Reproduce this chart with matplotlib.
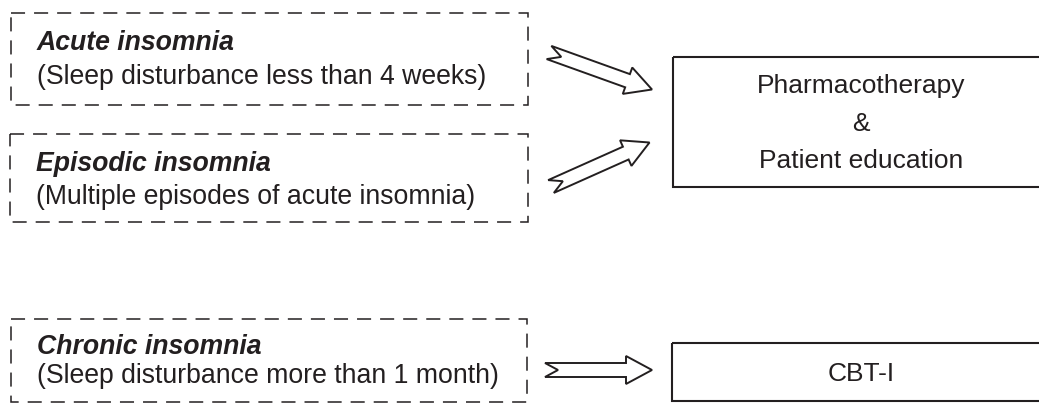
import matplotlib

matplotlib.use("Agg")
import matplotlib.pyplot as plt
import numpy as np
from matplotlib.patches import Polygon, Rectangle

plt.rcParams["font.family"] = ["Liberation Sans", "DejaVu Sans"]

# content of the diagram
titles = ["Acute insomnia", "Episodic insomnia", "Chronic insomnia"]
notes = [
    "(Sleep disturbance less than 4 weeks)",
    "(Multiple episodes of acute insomnia)",
    "(Sleep disturbance more than 1 month)",
]
treatments = [["Pharmacotherapy", "&", "Patient education"], ["CBT-I"]]
links = [(0, 0), (1, 0), (2, 1)]  # condition -> treatment

INK = "#231f20"
W, H = 1039, 403

# layout in pixel units (y grows downward)
cond_boxes = [(11, 12.5, 517, 92), (10, 134, 518, 88), (11, 318.5, 516, 83)]
title_dy = [37, 37, 35.5]
note_dy = [71, 69.5, 64.5]
treat_boxes = [(673, 57, 380, 130), (672, 343, 380, 58)]
line_gap = 37.5
arrow_ends = [((549, 52.5), (652, 89.5)), ((551, 186.5), (649.5, 142.5)), ((545, 370), (652, 370))]


def block_arrow(tail, tip, half_w=7, half_h=14, head_len=26, notch=13):
    tail = np.asarray(tail, float)
    tip = np.asarray(tip, float)
    d = tip - tail
    length = np.hypot(*d)
    u = d / length
    n = np.array([-u[1], u[0]])
    local = [
        (0, half_w), (length - head_len, half_w), (length - head_len, half_h),
        (length, 0), (length - head_len, -half_h), (length - head_len, -half_w),
        (0, -half_w), (notch, 0),
    ]
    return np.array([tail + a * u + b * n for a, b in local])


fig = plt.figure(figsize=(W / 100, H / 100), dpi=100)
ax = fig.add_axes([0, 0, 1, 1])
ax.set_xlim(0, W)
ax.set_ylim(H, 0)
ax.axis("off")

for i, (x, y, w, h) in enumerate(cond_boxes):
    ax.add_patch(Rectangle((x, y), w, h, fill=False, ec=INK, lw=1.1,
                           ls=(0, (9.2, 5.9))))
    ax.text(x + 26, y + title_dy[i], titles[i], fontsize=19.2, fontweight="bold",
            fontstyle="italic", color=INK, va="baseline", ha="left")
    ax.text(x + 26, y + note_dy[i], notes[i], fontsize=19.2, color=INK,
            va="baseline", ha="left")

for lines, (x, y, w, h) in zip(treatments, treat_boxes):
    ax.add_patch(Rectangle((x, y), w, h, fill=False, ec=INK, lw=1.5))
    cy = y + h / 2
    n = len(lines)
    for k, line in enumerate(lines):
        ty = cy + (k - (n - 1) / 2) * line_gap + 9
        ax.text(861, ty, line, fontsize=19, color=INK, ha="center", va="baseline")

for (c, t), (tail, tip) in zip(links, arrow_ends):
    ax.add_patch(Polygon(block_arrow(tail, tip), closed=True, fc="white",
                         ec=INK, lw=1.4, joinstyle="miter"))

fig.savefig("out.png", dpi=100)
